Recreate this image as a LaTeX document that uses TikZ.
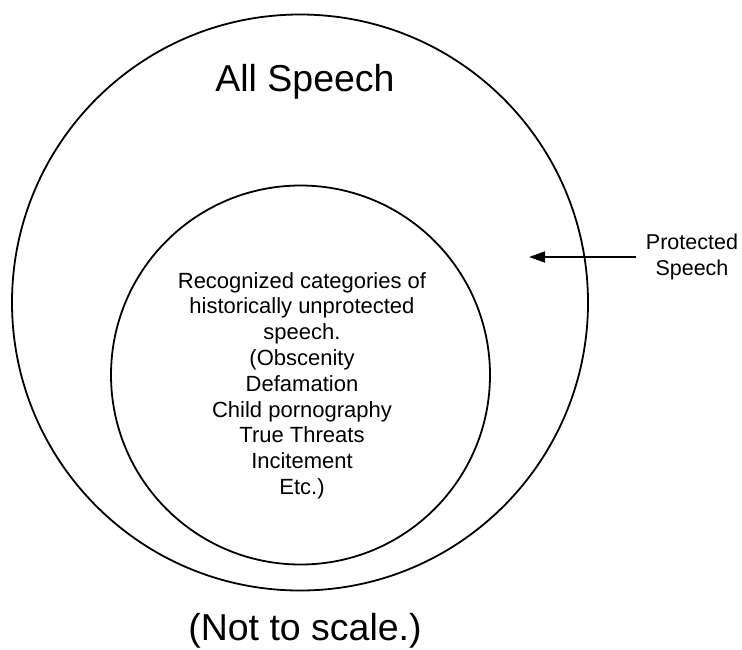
\documentclass[tikz,border=0pt]{standalone}
\usepackage{fontspec}
\setmainfont{Liberation Sans}
\usetikzlibrary{arrows.meta}
\begin{document}
\begin{tikzpicture}[x=1pt,y=-1pt,
  ring/.style={draw=black,line width=1.8pt,circle},
  lbl/.style={align=center,inner sep=0pt}]
\useasboundingbox (0,0) rectangle (742,649);
\node[ring,minimum size=576pt,inner sep=0pt] (outer) at (300,302.5) {};
\node[ring,minimum size=379pt,inner sep=0pt] (inner) at (300.5,375) {};
\node[lbl,font=\fontsize{37.5}{40}\selectfont] (title) at (305,82) {All Speech};
\node[lbl,font=\fontsize{22}{25.8}\selectfont] (cats) at (302,385.5) {Recognized categories of\\historically unprotected\\speech.\\(Obscenity\\Defamation\\Child pornography\\True Threats\\Incitement\\Etc.)};
\node[lbl,font=\fontsize{21.5}{26}\selectfont] (prot) at (692,257) {Protected\\Speech};
\node[lbl,font=\fontsize{37.5}{40}\selectfont] (note) at (305,631) {(Not to scale.)};
\coordinate (tip) at (529,257);
\coordinate (tail) at (636,257);
\draw[line width=1.8pt,-{Triangle[length=16pt,width=11pt]}] (tail) -- (tip);
\end{tikzpicture}
\end{document}
